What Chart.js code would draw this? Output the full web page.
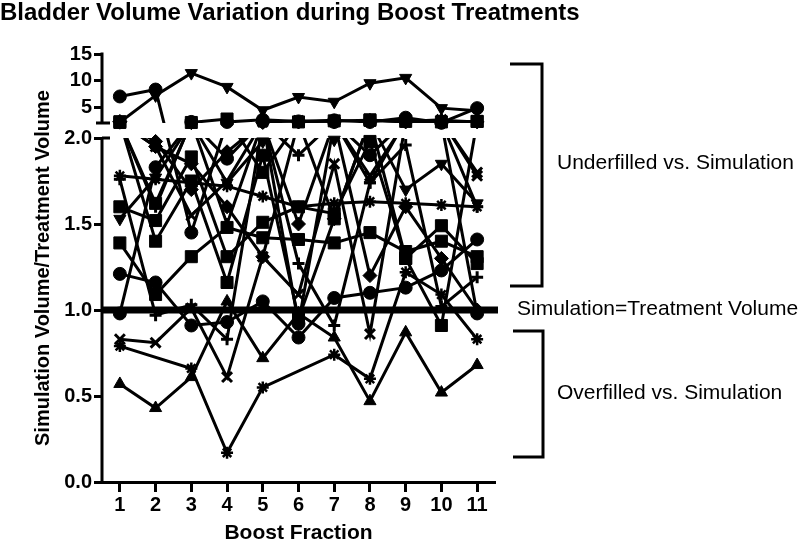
<!DOCTYPE html>
<html>
<head>
<meta charset="utf-8">
<script src="https://cdn.jsdelivr.net/npm/chart.js@4.4.1/dist/chart.umd.min.js"></script>
<style>
html,body{margin:0;padding:0;background:#fff;}
#wrap{width:800px;height:544px;position:relative;}
</style>
</head>
<body>
<div id="wrap"><canvas id="c" width="800" height="544"></canvas></div>
<script>
// ---------------- data ----------------
const FRACTIONS = ['1','2','3','4','5','6','7','8','9','10','11'];
const Y_TICKS = [0, 0.5, 1, 1.5, 2, 5, 10, 15];
const SERIES_NAMES = ['Patient 1','Patient 2','Patient 3','Patient 4','Patient 5','Patient 6',
  'Patient 7','Patient 8','Patient 9','Patient 10','Patient 11','Patient 12',
  'Patient 13','Patient 14','Patient 15','Patient 16','Patient 17','Patient 18'];

const P01 = [2.15, 7.2, 11.4, 8.8, 4.4, 6.9, 6.0, 9.5, 10.5, 4.8, 4.3];
const P02 = [7.0, 8.3, 1.45, 2.2, 2.6, 2.3, 2.5, 2.2, 3.0, 2.05, 4.8];
const P03 = [2.1, 1.62, 2.1, 2.75, 1.80, 2.2, 2.4, 2.5, 2.3, 2.2, 2.3];
const P04 = [0.79, null, 0.66, 0.17, 0.55, null, 0.74, 0.60, 1.22, 1.09, 0.83];
const P05 = [0.57, 0.43, 0.61, 1.05, 0.72, 0.98, 0.84, 0.47, 0.87, 0.52, 0.68];
const P06 = [0.83, 0.81, 1.01, 0.61, 1.31, 1.09, 1.85, 0.86, 2.3, 2.6, 1.78];
const P07 = [1.76, 0.97, 1.03, 0.83, 2.1, 1.27, 0.91, 1.74, 1.96, 1.02, 1.19];
const P08 = [1.21, 1.16, 0.91, 0.93, 1.05, 0.84, 1.07, 1.10, 1.13, 1.23, 1.41];
const P09 = [1.39, 1.09, 1.31, 1.48, 1.42, 1.41, 1.39, 1.45, 1.34, 1.40, 1.31];
const P10 = [1.60, 1.52, 1.89, 1.31, 1.51, 1.60, 1.56, 1.98, 1.30, 1.49, 1.27];
const P11 = [1.53, 1.77, 2.05, 1.74, 1.98, 2.2, 1.99, 2.3, 1.70, 1.85, 1.62];
const P12 = [0.98, 1.83, 2.2, 1.88, 2.3, 0.92, 2.2, 1.9, 2.4, 2.1, 0.98];
const P13 = [2.2, 1.95, 1.85, 1.60, 1.31, 2.2, 1.53, 2.5, 2.2, 2.5, 2.2];
const P14 = [2.15, 1.95, 1.55, 1.75, 2.2, 2.4, 2.3, 1.78, 2.2, 2.5, 1.80];
const P15 = [2.25, 1.40, 1.75, 1.16, 1.90, 0.95, 1.53, 2.6, 1.30, 0.91, 2.3];
const P16 = [1.78, 1.76, 1.74, 1.72, 1.66, 1.60, 1.62, 1.63, 1.62, 1.61, 1.60];
const P17 = [2.1, 1.60, 2.3, 1.50, 2.3, 1.9, 2.3, 1.74, 2.5, 2.2, 1.6];
const P18 = [2.3, 1.98, 1.70, 1.92, 2.1, 1.5, 2.2, 1.2, 1.6, 1.3, 1.0];

const SERIES_VALUES = [P01,P02,P03,P04,P05,P06,P07,P08,P09,P10,P11,P12,P13,P14,P15,P16,P17,P18];
const MARKERS = ['triDown','circle','rect','star','triangle','crossRot','cross','circle','rect',
  'rect','triDown','circle','rectRot','crossRot','rect','star','cross','rectRot'];

// ---------------- broken y scale ----------------
const BREAK = 2, Y_MIN = 0, Y_MAX = 15;
const LOW_SHARE = 344 / 428, GAP_SHARE = 15 / 428;

class BrokenScale extends Chart.LinearScale {
  _segs() {
    const h = this.bottom - this.top;
    const low = h * LOW_SHARE, gap = h * GAP_SHARE;
    return {low: low, gap: gap, up: h - low - gap};
  }
  upperBreakPixel() {
    const s = this._segs();
    return this.bottom - s.low - s.gap;
  }
  getPixelForValue(v) {
    if (v === null || v === undefined || isNaN(v)) return NaN;
    const s = this._segs();
    if (v <= BREAK) return this.bottom - (v - Y_MIN) / (BREAK - Y_MIN) * s.low;
    return this.bottom - s.low - s.gap - (v - BREAK) / (Y_MAX - BREAK) * s.up;
  }
  getValueForPixel(p) {
    const s = this._segs();
    const lowTop = this.bottom - s.low;
    if (p >= lowTop) return Y_MIN + (this.bottom - p) / s.low * (BREAK - Y_MIN);
    const upBot = lowTop - s.gap;
    return BREAK + (upBot - p) / s.up * (Y_MAX - BREAK);
  }
}
BrokenScale.id = 'broken';
BrokenScale.defaults = {};
Chart.register(BrokenScale);

// ---------------- styles ----------------
function markerStyle(m) {
  switch (m) {
    case 'triDown': return {pointStyle: 'triangle', pointRotation: 180, pointRadius: 7, pointBorderWidth: 1};
    case 'triangle': return {pointStyle: 'triangle', pointRotation: 0, pointRadius: 7, pointBorderWidth: 1};
    case 'rect': return {pointStyle: 'rect', pointRotation: 0, pointRadius: 8.5, pointBorderWidth: 1};
    case 'rectRot': return {pointStyle: 'rectRot', pointRotation: 0, pointRadius: 7, pointBorderWidth: 1};
    case 'cross': return {pointStyle: 'cross', pointRotation: 0, pointRadius: 6, pointBorderWidth: 3};
    case 'crossRot': return {pointStyle: 'crossRot', pointRotation: 0, pointRadius: 7, pointBorderWidth: 3};
    case 'star': return {pointStyle: 'star', pointRotation: 0, pointRadius: 6, pointBorderWidth: 2.5};
    default: return {pointStyle: 'circle', pointRotation: 0, pointRadius: 6.5, pointBorderWidth: 1};
  }
}

const lineSets = SERIES_VALUES.map((vals, i) => ({
  label: SERIES_NAMES[i],
  data: vals,
  kind: 'line',
  borderColor: '#000',
  borderWidth: 3,
  pointRadius: 0,
  pointHoverRadius: 0,
  fill: false,
  spanGaps: true,
  tension: 0,
  order: 1
}));
const pointSets = SERIES_VALUES.map((vals, i) => Object.assign({
  label: SERIES_NAMES[i] + ' markers',
  data: vals,
  kind: 'points',
  showLine: false,
  pointBackgroundColor: '#000',
  pointBorderColor: '#000',
  clip: false,
  order: 0
}, markerStyle(MARKERS[i])));

// ---------------- overlay plugin ----------------
const overlay = {
  id: 'overlay',
  beforeDatasetDraw(chart, args) {
    const ds = chart.data.datasets[args.index];
    if (ds.kind !== 'line') return;
    const ctx = chart.ctx, ca = chart.chartArea, y = chart.scales.y;
    const gTop = y.upperBreakPixel(), gBot = y.getPixelForValue(BREAK);
    ctx.save();
    ctx.beginPath();
    ctx.rect(ca.left, ca.top - 20, ca.right - ca.left + 10, gTop - ca.top + 20);
    ctx.rect(ca.left, gBot, ca.right - ca.left + 10, ca.bottom - gBot);
    ctx.clip();
  },
  afterDatasetDraw(chart, args) {
    if (chart.data.datasets[args.index].kind === 'line') chart.ctx.restore();
  },
  afterDatasetsDraw(chart) {
    const ctx = chart.ctx, ca = chart.chartArea, y = chart.scales.y;
    ctx.save();
    ctx.strokeStyle = '#000';
    const y1 = y.getPixelForValue(1);
    ctx.lineWidth = 7;
    ctx.lineCap = 'butt';
    ctx.beginPath();
    ctx.moveTo(ca.left, y1);
    ctx.lineTo(ca.right + 3, y1);
    ctx.stroke();
    const gTop = y.upperBreakPixel(), gBot = y.getPixelForValue(BREAK);
    const ax = ca.left;
    ctx.lineWidth = 3;
    ctx.beginPath();
    ctx.moveTo(ax, y.getPixelForValue(Y_MAX) - 1.5);
    ctx.lineTo(ax, gTop);
    ctx.moveTo(ax, gBot);
    ctx.lineTo(ax, ca.bottom + 1.5);
    ctx.moveTo(ax - 6, gTop);
    ctx.lineTo(ax + 8, gTop);
    ctx.moveTo(ax, gBot);
    ctx.lineTo(ax + 8, gBot);
    ctx.stroke();
    ctx.restore();
  },
  afterDraw(chart) {
    const ctx = chart.ctx, ca = chart.chartArea, y = chart.scales.y;
    ctx.save();
    ctx.strokeStyle = '#000';
    ctx.fillStyle = '#000';
    ctx.lineWidth = 3;
    ctx.lineCap = 'butt';
    const armL = ca.right + 15, vx = ca.right + 47;
    const b1t = y.getPixelForValue(13.1), b1b = y.getPixelForValue(1.14);
    ctx.beginPath();
    ctx.moveTo(armL, b1t); ctx.lineTo(vx, b1t); ctx.lineTo(vx, b1b); ctx.lineTo(armL, b1b);
    ctx.stroke();
    const b2t = y.getPixelForValue(0.878), b2b = y.getPixelForValue(0.145);
    ctx.beginPath();
    ctx.moveTo(armL + 3, b2t); ctx.lineTo(vx + 1, b2t); ctx.lineTo(vx + 1, b2b); ctx.lineTo(armL + 3, b2b);
    ctx.stroke();
    ctx.font = '21px "Liberation Sans", Arial, sans-serif';
    ctx.textBaseline = 'alphabetic';
    ctx.textAlign = 'left';
    ctx.fillText('Underfilled vs. Simulation', ca.right + 62, y.getPixelForValue(1.82));
    ctx.fillText('Simulation=Treatment Volume', ca.right + 22, y.getPixelForValue(1) + 5);
    ctx.fillText('Overfilled vs. Simulation', ca.right + 62, y.getPixelForValue(0.483));
    ctx.restore();
  }
};

Chart.defaults.font.family = '"Liberation Sans", Arial, sans-serif';
Chart.defaults.color = '#000';

new Chart(document.getElementById('c'), {
  type: 'line',
  data: {labels: FRACTIONS, datasets: pointSets.concat(lineSets)},
  plugins: [overlay],
  options: {
    responsive: false,
    animation: false,
    events: [],
    layout: {padding: {left: 0, right: 0, top: 0, bottom: 0}},
    plugins: {
      legend: {display: false},
      tooltip: {enabled: false},
      title: {
        display: true,
        text: 'Bladder Volume Variation during Boost Treatments',
        align: 'start',
        color: '#000',
        font: {family: '"Liberation Sans", Arial, sans-serif', weight: 'bold', size: 24, lineHeight: 1.1},
        padding: {top: 0, bottom: 27.6}
      }
    },
    scales: {
      x: {
        type: 'category',
        offset: true,
        grid: {offset: false, drawOnChartArea: false, drawTicks: true, tickLength: 10, tickWidth: 3, color: '#000'},
        border: {display: true, color: '#000', width: 3},
        ticks: {color: '#000', padding: 1, maxRotation: 0, autoSkip: false,
          font: {weight: 'bold', size: 20}},
        title: {display: true, text: 'Boost Fraction', color: '#000',
          font: {weight: 'bold', size: 21, lineHeight: 1.0}, padding: {top: 0, bottom: 0}},
        afterFit(s) { s.height = 62; }
      },
      y: {
        type: 'broken',
        min: Y_MIN,
        max: Y_MAX,
        grid: {drawOnChartArea: false, drawTicks: true, tickLength: 8, tickWidth: 3, color: '#000'},
        border: {display: false},
        afterBuildTicks(s) { s.ticks = Y_TICKS.map(v => ({value: v})); },
        ticks: {
          color: '#000', padding: 2, font: {weight: 'bold', size: 20},
          callback: (v) => (v <= BREAK ? Number(v).toFixed(1) : String(v))
        },
        title: {display: true, text: 'Simulation Volume/Treatment Volume', color: '#000',
          font: {weight: 'bold', size: 20, lineHeight: 1.2}, padding: {top: 31, bottom: 0}},
        afterFit(s) { s.width = 102; }
      },
      annot: {
        type: 'linear',
        position: 'right',
        display: true,
        grid: {display: false},
        border: {display: false},
        ticks: {display: false},
        afterFit(s) { s.width = 305; }
      }
    }
  }
});
</script>
</body>
</html>
